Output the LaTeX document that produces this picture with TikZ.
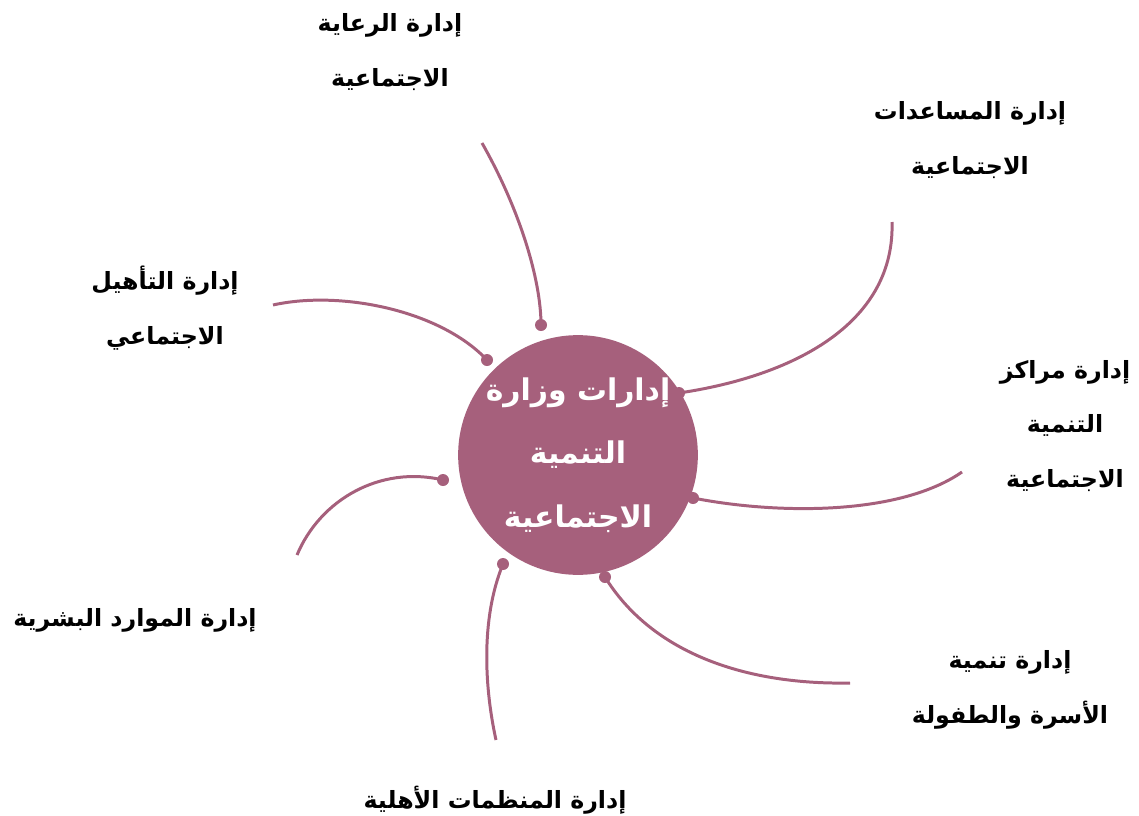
\documentclass[tikz,border=0pt]{standalone}
\usepackage{fontspec}
\newfontfamily\arabicfont[Script=Arabic]{DejaVu Sans}
\TeXXeTstate=1
\definecolor{mauve}{RGB}{166,96,124}
\newcommand{\ar}[1]{\beginR #1\endR}
\tikzset{
  hub/.style={circle, fill=mauve, minimum size=4.68cm, inner sep=0pt,
    text=white, font=\arabicfont\bfseries\fontsize{17}{36}\selectfont, align=center},
  dept/.style={font=\arabicfont\bfseries\fontsize{13.5}{31}\selectfont, align=center},
  link/.style={mauve, line width=1.7pt},
  knob/.style={mauve, fill=mauve}
}
\begin{document}
\begin{tikzpicture}[x=0.02cm, y=-0.02cm]
\useasboundingbox (0,0) rectangle (1139,815);

% Center
      \node[hub] (hub) at (578,455) {\ar{إدارات  وزارة}\\ \ar{التنمية}\\ \ar{الاجتماعية}};

% Departments
      \node[dept] (care) at (390,52) {\ar{إدارة الرعاية}\\ \ar{الاجتماعية}};
      \node[dept] (aid) at (970,140) {\ar{إدارة المساعدات}\\ \ar{الاجتماعية}};
      \node[dept] (centers) at (1065,426) {\ar{إدارة مراكز}\\ \ar{التنمية}\\ \ar{الاجتماعية}};
      \node[dept] (family) at (1010,690) {\ar{إدارة تنمية}\\ \ar{الأسرة والطفولة}};
      \node[dept] (ngo) at (495,800) {\ar{إدارة المنظمات الأهلية}};
      \node[dept] (hr) at (135,620) {\ar{إدارة الموارد البشرية}};
      \node[dept] (rehab) at (165,308) {\ar{إدارة التأهيل}\\ \ar{الاجتماعي}};

% Ends of the links
      \coordinate (careA) at (482,143);   \coordinate (careB) at (541,325);
      \coordinate (aidA) at (892,222);    \coordinate (aidB) at (679,393);
      \coordinate (centersA) at (962,472); \coordinate (centersB) at (693,498);
      \coordinate (familyA) at (850,683); \coordinate (familyB) at (605,577);
      \coordinate (ngoA) at (496,740);    \coordinate (ngoB) at (503,564);
      \coordinate (hrA) at (297,555);     \coordinate (hrB) at (443,480);
      \coordinate (rehabA) at (273,305);  \coordinate (rehabB) at (487,360);

% Links
      \draw[link] (careA) .. controls (520,210) and (541,280) .. (careB);
      \draw[link] (aidA) .. controls (895,320) and (800,375) .. (aidB);
      \draw[link] (centersA) .. controls (900,515) and (780,515) .. (centersB);
      \draw[link] (familyA) .. controls (740,685) and (650,650) .. (familyB);
      \draw[link] (ngoA) .. controls (485,690) and (480,620) .. (ngoB);
      \draw[link] (hrA) .. controls (320,500) and (380,465) .. (hrB);
      \draw[link] (rehabA) .. controls (340,290) and (440,310) .. (rehabB);

% Dots
      \foreach \d in {careB,aidB,centersB,familyB,ngoB,hrB,rehabB}
        \fill[knob] (\d) circle (6);

\end{tikzpicture}
\end{document}
